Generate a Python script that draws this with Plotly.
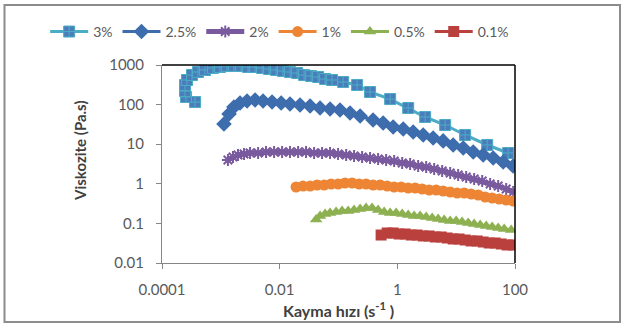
import plotly.graph_objects as go

# ---- data (shear rate, viscosity) ----
x_3 = [3.64e-4, 2.56e-4, 2.46e-4, 2.46e-4, 2.66e-4, 3.24e-4, 4.09e-4, 5.38e-4, 7.36e-4, 9.68e-4,
       1.27e-3, 1.67e-3, 2.21e-3, 2.90e-3, 3.82e-3, 5.02e-3, 6.61e-3, 8.69e-3, 0.0114, 0.0150,
       0.0198, 0.0260, 0.0342, 0.0450, 0.0592, 0.0778, 0.120, 0.207, 0.344, 0.755,
       1.53, 2.97, 6.50, 14.2, 33.7, 76.6]
y_3 = [116, 156, 220, 313, 418, 558, 665, 748, 840, 890,
       944, 944, 944, 890, 890, 840, 792, 748, 705, 665,
       628, 558, 527, 498, 443, 418, 372, 313, 208, 138,
       82, 48.6, 30.5, 17.1, 9.55, 6.0]

x_25 = [1.13e-3, 1.38e-3, 1.67e-3, 2.12e-3, 2.79e-3, 3.82e-3, 5.22e-3, 7.43e-3, 0.0106, 0.0150,
        0.0222, 0.0329, 0.0486, 0.0719, 0.106, 0.157, 0.233, 0.387, 0.574, 0.849,
        1.26, 1.86, 2.75, 4.06, 6.01, 8.89, 13.2, 19.5, 28.8, 42.6, 63.0, 93.1]
y_25 = [32.4, 57.9, 86.9, 110, 123, 131, 123, 116, 110, 104,
        97.7, 92.2, 82, 77.4, 73.1, 61.4, 51.5, 40.8, 34.3, 27.2,
        24.2, 20.3, 17.1, 14.3, 12.1, 9.55, 8.02, 6.35, 5.34, 4.48, 3.55, 2.81]

x_2 = [1.32e-3, 1.61e-3, 1.96e-3, 2.48e-3, 3.14e-3, 4.30e-3, 5.87e-3, 8.04e-3, 0.0110, 0.0150,
       0.0206, 0.0281, 0.0385, 0.0526, 0.0719, 0.0984, 0.135, 0.184, 0.252, 0.344,
       0.471, 0.645, 0.883, 1.21, 1.65, 2.26, 3.09, 4.23, 5.78, 7.91,
       10.8, 14.8, 20.2, 27.7, 37.8, 51.8, 70.8, 93.1]
y_2 = [3.99, 4.75, 5.34, 5.66, 6.0, 6.0, 6.35, 6.35, 6.35, 6.35,
       6.35, 6.35, 6.0, 6.0, 6.0, 5.66, 5.34, 5.04, 4.75, 4.48,
       4.23, 3.99, 3.77, 3.35, 3.16, 2.81, 2.66, 2.37, 2.11, 1.87,
       1.67, 1.49, 1.32, 1.18, 0.989, 0.879, 0.739, 0.621]

x_1 = [0.0190, 0.0250, 0.0329, 0.0433, 0.0569, 0.0748, 0.0984, 0.129, 0.170, 0.224,
       0.294, 0.387, 0.509, 0.671, 0.883, 1.16, 1.53, 2.01, 2.64, 3.48,
       4.57, 6.01, 7.91, 10.4, 13.7, 18.0, 23.7, 31.1, 40.9, 53.8, 70.8, 93.1]
y_1 = [0.830, 0.879, 0.879, 0.933, 0.933, 0.989, 0.989, 1.047, 1.047, 0.989,
       0.989, 0.933, 0.933, 0.879, 0.830, 0.830, 0.783, 0.783, 0.739, 0.697,
       0.697, 0.658, 0.621, 0.586, 0.586, 0.552, 0.521, 0.464, 0.438, 0.413, 0.390, 0.368]

x_05 = [0.0416, 0.0486, 0.0592, 0.0719, 0.0910, 0.115, 0.146, 0.184, 0.233, 0.294,
        0.372, 0.471, 0.597, 0.755, 0.955, 1.21, 1.53, 1.93, 2.44, 3.09,
        3.91, 4.94, 6.25, 7.91, 10.0, 12.6, 16.0, 20.2, 25.6, 32.4, 40.9, 51.8, 65.5, 86.1]
y_05 = [0.125, 0.154, 0.173, 0.183, 0.194, 0.206, 0.206, 0.218, 0.231, 0.245,
        0.245, 0.218, 0.194, 0.183, 0.183, 0.173, 0.163, 0.154, 0.154, 0.145,
        0.137, 0.129, 0.122, 0.115, 0.115, 0.108, 0.102, 0.0966, 0.0912, 0.0859, 0.0811, 0.0766, 0.0723, 0.0681]

x_01 = [0.530, 0.671, 0.849, 1.07, 1.36, 1.72, 2.17, 2.75, 3.48, 4.40,
        5.56, 7.03, 8.89, 11.2, 14.2, 18.0, 22.8, 28.8, 36.4, 46.0, 58.2, 73.6, 93.1]
y_01 = [0.0509, 0.0573, 0.0573, 0.0540, 0.0540, 0.0509, 0.0509, 0.0481, 0.0481, 0.0454,
        0.0454, 0.0428, 0.0404, 0.0404, 0.0381, 0.0360, 0.0360, 0.0339, 0.0320, 0.0320, 0.0302, 0.0285, 0.0285]

x_tickvals = [1e-4, 1e-2, 1, 100]
x_ticktext = ["0.0001", "0.01", "1", "100"]
y_tickvals = [0.01, 0.1, 1, 10, 100, 1000]
y_ticktext = ["0.01", "0.1", "1", "10", "100", "1000"]

FONT = "Lato"
fig = go.Figure()

series = [
    ("3%", x_3, y_3, "#4BACC6", dict(symbol="square-cross", size=11, color="#4A7EBB",
                                       line=dict(color="#4BACC6", width=1))),
    ("2.5%", x_25, y_25, "#3E6DAE", dict(symbol="diamond", size=12, color="#3E6DAE")),
    ("2%", x_2, y_2, "#7A5A9E", dict(symbol="asterisk-open", size=10,
                                      line=dict(color="#7A5A9E", width=2))),
    ("1%", x_1, y_1, "#EE8535", dict(symbol="circle", size=11, color="#EE8535")),
    ("0.5%", x_05, y_05, "#8DB050", dict(symbol="triangle-up", size=11, color="#8DB050")),
    ("0.1%", x_01, y_01, "#B9403D", dict(symbol="square", size=11, color="#B9403D")),
]
for name, xs, ys, lc, mk in series:
    lw = 5 if name == "2%" else 3
    fig.add_trace(go.Scatter(x=xs, y=ys, name=name, mode="lines+markers",
                             line=dict(color=lc, width=lw), marker=mk))

L, R, T, B = 162, 109, 65, 61
fig.update_layout(
    width=624, height=324,
    margin=dict(l=L, r=R, t=T, b=B),
    paper_bgcolor="white", plot_bgcolor="white",
    font=dict(family=FONT, size=15, color="#595959"),
    showlegend=True,
    legend=dict(orientation="h", x=-0.331, xanchor="left", y=1.167, yanchor="middle",
                font=dict(family=FONT, size=14, color="#595959"), itemwidth=38,
                bgcolor="rgba(0,0,0,0)", traceorder="normal"),
    xaxis=dict(type="log", range=[-4, 2], tickvals=x_tickvals, ticktext=x_ticktext,
               showgrid=False, zeroline=False, showline=True, linecolor="#868686", linewidth=1,
               ticks="outside", ticklen=5, tickcolor="#868686", ticklabelstandoff=8),
    yaxis=dict(type="log", range=[-2, 3], tickvals=y_tickvals, ticktext=y_ticktext,
               showgrid=False, zeroline=False, showline=True, linecolor="#868686", linewidth=1,
               ticks="outside", ticklen=5, tickcolor="#868686", ticklabelstandoff=9),
)

shapes = [
    dict(type="line", xref="paper", yref="paper", x0=0, x1=1, y0=1, y1=1,
         line=dict(color="black", width=1.5)),
    dict(type="line", xref="paper", yref="paper", x0=1, x1=1, y0=0, y1=1,
         line=dict(color="black", width=1.5)),
    dict(type="rect", xref="paper", yref="paper", x0=-0.4462, x1=1.2975, y0=-0.298, y1=1.303,
         line=dict(color="#8C8C8C", width=2), fillcolor="rgba(0,0,0,0)"),
]
fig.update_layout(shapes=shapes)

fig.add_annotation(text="<b>Kayma hızı (s<sup>-1</sup> )</b>", xref="paper", yref="paper",
                   x=0.5, y=-0.237, xanchor="center", yanchor="middle", showarrow=False,
                   font=dict(family=FONT, size=16, color="#404040"))
fig.add_annotation(text="<b>Viskozite (Pa.s)</b>", xref="paper", yref="paper",
                   x=-0.232, y=0.566, xanchor="center", yanchor="middle", showarrow=False,
                   textangle=-90, font=dict(family=FONT, size=15, color="#404040"))

fig.write_html("out.html")
